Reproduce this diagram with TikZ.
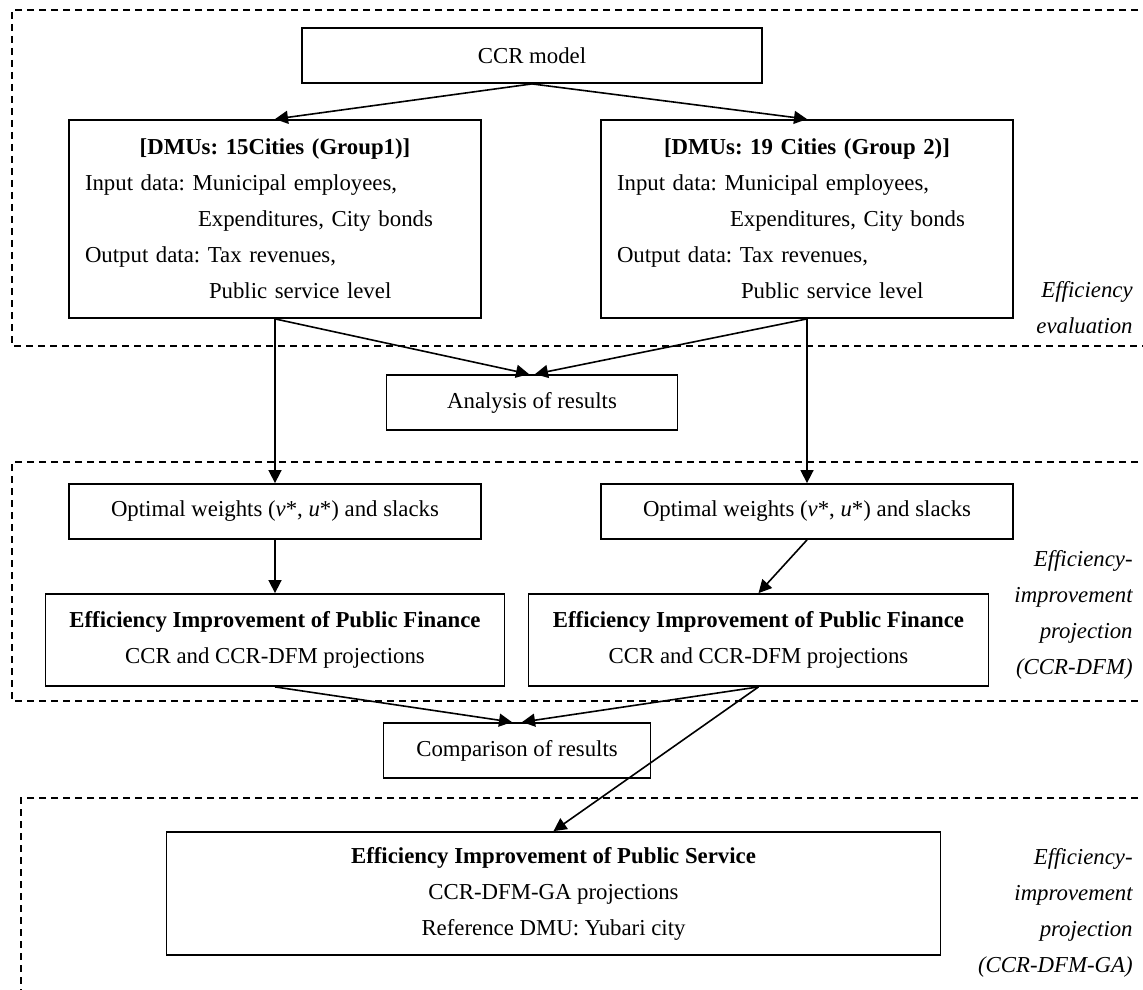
\documentclass[tikz,border=0pt]{standalone}
\usepackage{fontspec}
\setmainfont{Liberation Serif}
\frenchspacing
\usetikzlibrary{arrows.meta,positioning}

\newcommand{\dmulines}[1]{\makebox[190pt]{\textbf{#1}}\\
  Input data: Municipal employees,\\
  \hspace*{56.5pt}Expenditures, City bonds\\
  Output data: Tax revenues,\\
  \hspace*{62pt}Public service level}

\begin{document}
\begin{tikzpicture}[>={Triangle[length=6.5pt,width=6.5pt]},node distance=20pt,on grid,
  every node/.style={font=\fontsize{11.4}{18}\selectfont},
  box/.style={draw,line width=0.9pt,inner sep=0pt,minimum height=27.5pt,align=center},
  dmubox/.style={draw,line width=0.9pt,inner xsep=8pt,inner ysep=0pt,text width=190pt,minimum height=99pt,align=left},
  stage/.style={dash pattern=on 3.5pt off 2.5pt,line width=0.7pt},
  side/.style={anchor=east,inner sep=0pt,align=right,font=\fontsize{11.4}{18}\selectfont\itshape}]
  \useasboundingbox (0,0) rectangle (571.5pt,-494.5pt);
  % stages
  \draw[stage] (575pt,-5pt) -| (6pt,-173pt) -- (575pt,-173pt);
  \draw[stage] (575pt,-231pt) -| (6pt,-350.5pt) -- (575pt,-350.5pt);
  \draw[stage] (575pt,-399pt) -| (10.5pt,-500pt);

  \node[box,minimum width=230pt]  (ccr)  at (266pt,-27.75pt) {CCR model};
  \node[dmubox]                   (g1)   [below left=81.75pt and 128.5pt of ccr] {\dmulines{[DMUs: 15Cities (Group1)]}};
  \node[dmubox]                   (g2)   [right=266pt of g1] {\dmulines{[DMUs: 19 Cities (Group 2)]}};
  \node[box,minimum width=145.5pt] (ana) [below=173.5pt of ccr] {Analysis of results};
  \node[box,minimum width=206pt]  (w1)   [below=146.25pt of g1] {Optimal weights (\textit{v}*, \textit{u}*) and slacks};
  \node[box,minimum width=206pt]  (w2)   [right=266pt of w1] {Optimal weights (\textit{v}*, \textit{u}*) and slacks};
  \node[box,minimum width=229.5pt,minimum height=46pt] (e1) [below=64.25pt of w1] {\textbf{Efficiency Improvement of Public Finance}\\ CCR and CCR-DFM projections};
  \node[box,minimum width=230pt,minimum height=46pt]   (e2) [right=241.75pt of e1] {\textbf{Efficiency Improvement of Public Finance}\\ CCR and CCR-DFM projections};
  \node[box,minimum width=133.5pt] (cmp) [below right=55.25pt and 121pt of e1] {Comparison of results};
  \node[box,minimum width=387pt,minimum height=61.5pt] (ps) [below right=71.5pt and 18.25pt of cmp] {\textbf{Efficiency Improvement of Public Service}\\ CCR-DFM-GA projections\\ Reference DMU: Yubari city};

  \node[side] (lab1) at (566.5pt,-153.75pt) {Efficiency\\ evaluation};
  \node[side] (lab2) at (566.5pt,-307.5pt)  {Efficiency-\\ improvement\\ projection\\ (CCR-DFM)};
  \node[side] (lab3) at (566.5pt,-456.25pt) {Efficiency-\\ improvement\\ projection\\ (CCR-DFM-GA)};

  \tikzset{link/.style={->,line width=0.8pt}}
  \path (ccr.south) edge [link] (g1.north)
        (ccr.south) edge [link] (g2.north)
        (g1.south)  edge [link] (w1.north)
        (g1.south)  edge [link] ([xshift=-1.5pt]ana.north)
        (g2.south)  edge [link] (w2.north)
        (g2.south)  edge [link] ([xshift=1.5pt]ana.north)
        (w1.south)  edge [link] (e1.north)
        (w2.south)  edge [link] (e2.north)
        (e1.south)  edge [link] ([xshift=-2.5pt]cmp.north)
        (e2.south)  edge [link] ([xshift=2.5pt]cmp.north)
        (e2.south)  edge [link] (ps.north);
\end{tikzpicture}
\end{document}
